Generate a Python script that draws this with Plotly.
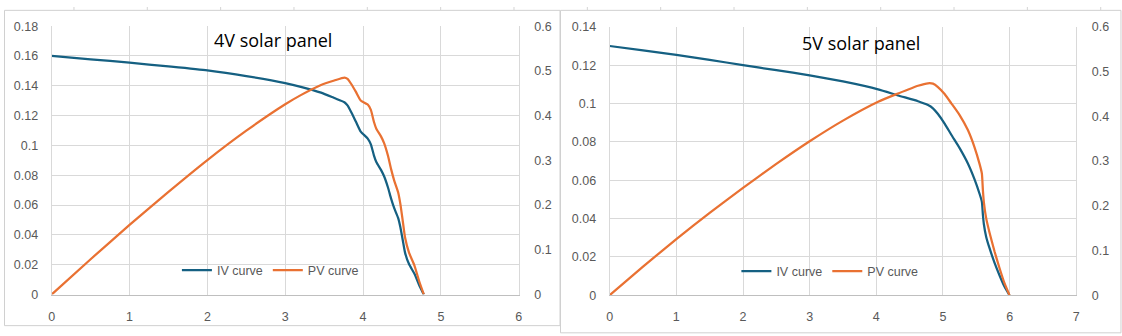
import plotly.graph_objects as go

# ---------------- data ----------------
# 4V panel
v4 = [0, 0.5, 1.0, 1.5, 2.0, 2.5, 3.0, 3.2, 3.46, 3.63, 3.76, 3.80, 3.85, 3.91, 3.97,
      4.06, 4.10, 4.14, 4.17, 4.23, 4.27, 4.32, 4.36, 4.40, 4.45, 4.48, 4.51, 4.54,
      4.59, 4.66, 4.72, 4.78]
i4 = [0.160, 0.1578, 0.1555, 0.1530, 0.1503, 0.1465, 0.1418, 0.1393, 0.1354, 0.1318,
      0.1290, 0.1269, 0.1221, 0.1157, 0.1093, 0.1046, 0.1007, 0.0932, 0.0889, 0.0836,
      0.0793, 0.0718, 0.0643, 0.0579, 0.0514, 0.0450, 0.0364, 0.0279, 0.0204, 0.0139,
      0.0064, 0.0]
p4 = [0, 0.0789, 0.1555, 0.2295, 0.3006, 0.3663, 0.4254, 0.4458, 0.4685, 0.4784,
      0.4850, 0.4822, 0.4701, 0.4524, 0.4339, 0.4247, 0.4129, 0.3858, 0.3707, 0.3536,
      0.3386, 0.3102, 0.2803, 0.2548, 0.2287, 0.2016, 0.1642, 0.1267, 0.0936, 0.0648,
      0.0302, 0]

# 5V panel
v5 = [0, 0.5, 1.0, 1.5, 2.0, 2.5, 3.0, 3.5, 4.027, 4.327, 4.626, 4.776, 4.850, 4.925,
      5.025, 5.125, 5.250, 5.374, 5.474, 5.549, 5.584, 5.599, 5.614, 5.649, 5.699,
      5.773, 5.848, 5.923, 5.998]
i5 = [0.130, 0.1277, 0.1254, 0.1228, 0.1200, 0.1174, 0.1147, 0.1115, 0.1074, 0.1042,
      0.1012, 0.0992, 0.0975, 0.0945, 0.0895, 0.0837, 0.0767, 0.0687, 0.0604, 0.0529,
      0.0487, 0.0420, 0.0370, 0.0304, 0.0245, 0.0170, 0.0104, 0.0045, 0.0]
p5 = [0, 0.0639, 0.1254, 0.1842, 0.2400, 0.2935, 0.3441, 0.3903, 0.4325, 0.4509,
      0.4682, 0.4738, 0.4729, 0.4654, 0.4497, 0.4290, 0.4027, 0.3692, 0.3306, 0.2935,
      0.2719, 0.2352, 0.2077, 0.1717, 0.1396, 0.0981, 0.0608, 0.0267, 0]

titles = ["4V solar panel", "5V solar panel"]
series_names = ["IV curve", "PV curve"]

x4_ticks = [0, 1, 2, 3, 4, 5, 6]
x5_ticks = [0, 1, 2, 3, 4, 5, 6, 7]
yl4_ticks = [0, 0.02, 0.04, 0.06, 0.08, 0.1, 0.12, 0.14, 0.16, 0.18]
yl4_text = ["0", "0.02", "0.04", "0.06", "0.08", "0.1", "0.12", "0.14", "0.16", "0.18"]
yl5_ticks = [0, 0.02, 0.04, 0.06, 0.08, 0.1, 0.12, 0.14]
yl5_text = ["0", "0.02", "0.04", "0.06", "0.08", "0.1", "0.12", "0.14"]
yr_ticks = [0, 0.1, 0.2, 0.3, 0.4, 0.5, 0.6]
yr_text = ["0", "0.1", "0.2", "0.3", "0.4", "0.5", "0.6"]

# ---------------- style ----------------
W, H = 1122, 336
IV_COLOR = "#156082"
PV_COLOR = "#E97132"
GRID = "#d9d9d9"
TXT = "#595959"
TICKFONT = dict(family="Liberation Sans, Arial", size=12.5, color=TXT)


def fx(px):
    return px / W


def fy(py):
    return 1 - py / H


fig = go.Figure()

fig.add_trace(go.Scatter(x=v4, y=i4, name=series_names[0], mode="lines",
                         line=dict(color=IV_COLOR, width=2.25, shape="spline", smoothing=0.5),
                         xaxis="x", yaxis="y", legend="legend"))
fig.add_trace(go.Scatter(x=v4, y=p4, name=series_names[1], mode="lines",
                         line=dict(color=PV_COLOR, width=2.25, shape="spline", smoothing=0.5),
                         xaxis="x", yaxis="y2", legend="legend"))
fig.add_trace(go.Scatter(x=v5, y=i5, name=series_names[0], mode="lines",
                         line=dict(color=IV_COLOR, width=2.25, shape="spline", smoothing=0.5),
                         xaxis="x2", yaxis="y3", legend="legend2"))
fig.add_trace(go.Scatter(x=v5, y=p5, name=series_names[1], mode="lines",
                         line=dict(color=PV_COLOR, width=2.25, shape="spline", smoothing=0.5),
                         xaxis="x2", yaxis="y4", legend="legend2"))

L_X0, L_X1, L_Y0, L_Y1 = 49, 519, 300, 20
R_X0, R_X1, R_Y0, R_Y1 = 610.5, 1080, 300.7, 20.7

xcommon = dict(showgrid=True, gridcolor=GRID, gridwidth=1, zeroline=False,
               showline=True, linecolor="#bfbfbf", linewidth=1, ticks="",
               tickfont=TICKFONT, tickmode="array", ticklabelstandoff=10)
ycommon = dict(showgrid=True, gridcolor=GRID, gridwidth=1, zeroline=False,
               showline=True, linecolor=GRID, linewidth=1, ticks="",
               tickfont=TICKFONT, tickmode="array", ticklabelstandoff=10)
yrcommon = dict(showgrid=False, zeroline=False, showline=True, linecolor=GRID,
                linewidth=1, ticks="", tickfont=TICKFONT, tickmode="array",
                side="right", ticklabelstandoff=12, tickvals=yr_ticks, ticktext=yr_text,
                range=[0, 0.6])

fig.update_layout(
    width=W, height=H,
    margin=dict(l=0, r=0, t=0, b=0),
    paper_bgcolor="white", plot_bgcolor="rgba(0,0,0,0)",
    xaxis=dict(domain=[fx(L_X0), fx(L_X1)], range=[0, 6], anchor="y",
               tickvals=x4_ticks, ticktext=[str(t) for t in x4_ticks], **xcommon),
    yaxis=dict(domain=[fy(L_Y0), fy(L_Y1)], range=[0, 0.18], anchor="x",
               tickvals=yl4_ticks, ticktext=yl4_text, **ycommon),
    yaxis2=dict(overlaying="y", anchor="x", **yrcommon),
    xaxis2=dict(domain=[fx(R_X0), fx(R_X1)], range=[0, 7], anchor="y3",
                tickvals=x5_ticks, ticktext=[str(t) for t in x5_ticks], **xcommon),
    yaxis3=dict(domain=[fy(R_Y0), fy(R_Y1)], range=[0, 0.14], anchor="x2",
                tickvals=yl5_ticks, ticktext=yl5_text, **ycommon),
    yaxis4=dict(overlaying="y3", anchor="x2", **yrcommon),
    legend=dict(orientation="h", x=fx(175), xanchor="left", y=fy(275), yanchor="middle",
                font=dict(family="Liberation Sans, Arial", size=12.5, color=TXT),
                bgcolor="rgba(0,0,0,0)", itemwidth=30, traceorder="normal"),
    legend2=dict(orientation="h", x=fx(738), xanchor="left", y=fy(276), yanchor="middle",
                 font=dict(family="Liberation Sans, Arial", size=12.5, color=TXT),
                 bgcolor="rgba(0,0,0,0)", itemwidth=30, traceorder="normal"),
    showlegend=True,
)

# chart titles
fig.add_annotation(text=titles[0], xref="paper", yref="paper", x=fx(271.5), y=fy(34),
                   xanchor="center", yanchor="middle", showarrow=False,
                   font=dict(family="Open Sans", size=18, color="#000000"))
fig.add_annotation(text=titles[1], xref="paper", yref="paper", x=fx(863.5), y=fy(38),
                   xanchor="center", yanchor="middle", showarrow=False,
                   font=dict(family="Open Sans", size=18, color="#000000"))

# spreadsheet column lines visible above the charts
col_x = [71.4 + k * 73.8 for k in range(15)]
for cx in col_x:
    fig.add_shape(type="line", xref="paper", yref="paper", x0=fx(cx), x1=fx(cx),
                  y0=fy(0), y1=fy(3.5), line=dict(color="#d4d4d4", width=1), layer="below")

# chart frames
fig.add_shape(type="rect", xref="paper", yref="paper", x0=fx(1.5), x1=fx(560.5),
              y0=fy(332.5), y1=fy(3.5), line=dict(color="#d0d0d0", width=1),
              fillcolor="white", layer="below")
fig.add_shape(type="rect", xref="paper", yref="paper", x0=fx(561), x1=fx(1125),
              y0=fy(340), y1=fy(3.5), line=dict(color="#d0d0d0", width=1),
              fillcolor="white", layer="below")

fig.write_html("out.html")
